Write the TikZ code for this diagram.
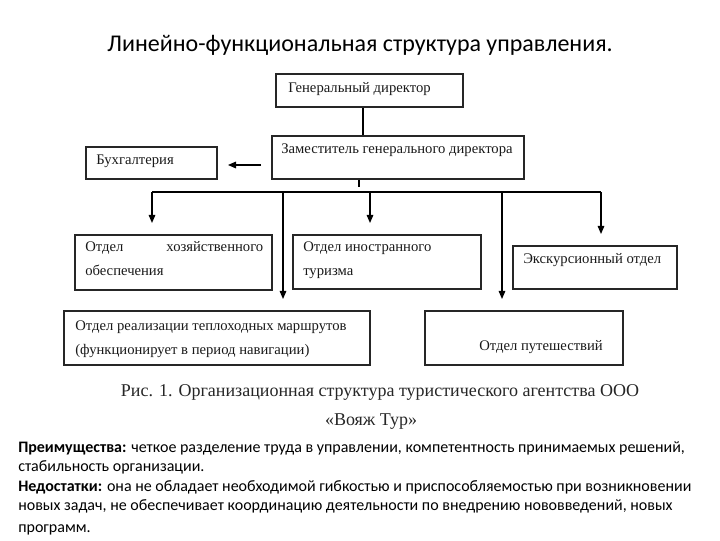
\documentclass[tikz,border=0pt]{standalone}
\usepackage{fontspec}
\setmainfont{Liberation Serif}
\newfontfamily\calib{Carlito}
\usetikzlibrary{arrows.meta,fit}
\begin{document}
\begin{tikzpicture}[x=0.75pt,y=-0.75pt,
  box/.style={draw=black!85, line width=1.1pt, inner sep=0pt},
  lbl/.style={anchor=base west, inner sep=0pt, font=\fontsize{11}{17.5}\selectfont, align=left, text=black!90},
  capt/.style={anchor=base, inner sep=0pt, font=\fontsize{13.5}{16}\selectfont, text=black!85},
  con/.style={draw=black, line width=0.8pt},
  arr/.style={con, -{Triangle[length=6pt,width=5pt]}, shorten >=8.5pt}
]
\useasboundingbox (0,0) rectangle (720,540);

% title
\node[anchor=base, inner sep=0pt, font=\calib\fontsize{18}{22}\selectfont] (title) at (360,51) {Линейно-функциональная структура управления.};

% boxes
\node[box, fit={(276,74)(463,107)}] (gen) {};
\node[box, fit={(272,136)(524,179)}] (zam) {};
\node[box, fit={(86,147)(217,179)}] (buh) {};
\node[box, fit={(75,235)(272,290)}] (hoz) {};
\node[box, fit={(293,235)(481,289)}] (ino) {};
\node[box, fit={(513,246)(677,289)}] (exc) {};
\node[box, fit={(64,311)(370,365)}] (rea) {};
\node[box, fit={(425,311)(623,365)}] (put) {};

% box texts (base anchor = baseline of the last line)
\node[lbl] (gen-t) at (288,92) {Генеральный директор};
\node[lbl] (zam-t) at (281,153) {Заместитель генерального директора};
\node[lbl] (buh-t) at (96,164) {Бухгалтерия};
\node[lbl] (hoz-t) at (85,275) {\makebox[133.5pt][s]{Отдел хозяйственного}\\обеспечения};
\node[lbl] (ino-t) at (303,275) {Отдел иностранного\\туризма};
\node[lbl] (exc-t) at (523,263) {Экскурсионный отдел};
\node[lbl] (rea-t) at (75,354) {Отдел реализации теплоходных маршрутов\\(функционирует в период навигации)};
\node[lbl] (put-t) at (479,350) {Отдел путешествий};

% connectors
\coordinate (gx) at (363,0);
\draw[con] (gen.south -| gx) -- (zam.north -| gx);
\coordinate (ha) at (261,165);
\coordinate (hb) at (228,165);
\draw[arr, shorten >=0pt] (ha) -- (hb);
\coordinate (sx) at (359,187);
\draw[con] (zam.south -| sx) -- (sx);
\coordinate (busL) at (152,192);
\coordinate (busR) at (601,192);
\coordinate (b2) at (283,192);
\coordinate (b3) at (370,192);
\coordinate (b4) at (502,192);
\draw[con] (busL) -- (busR);
\draw[arr] (busL) -- (hoz.north -| busL);
\draw[arr] (b2) -- (rea.north -| b2);
\draw[arr] (b3) -- (ino.north -| b3);
\draw[arr] (b4) -- (put.north -| b4);
\draw[arr] (busR) -- (exc.north -| busR);

% caption
\node[capt] (cap1) at (380,396) {Рис. 1. Организационная структура туристического агентства ООО};
\node[capt] (cap2) at (371,425) {«Вояж Тур»};

% notes
\node[anchor=base west, inner sep=0pt, align=left, font=\calib\fontsize{12}{14.6}\selectfont] (notes) at (18,532)
{\textbf{Преимущества:} четкое разделение труда в управлении, компетентность принимаемых решений,\\
стабильность организации.\\
\textbf{Недостатки:} она не обладает необходимой гибкостью и приспособляемостью при возникновении\\
новых задач, не обеспечивает координацию деятельности по внедрению нововведений, новых\\[1.5pt]
программ.};
\end{tikzpicture}
\end{document}
